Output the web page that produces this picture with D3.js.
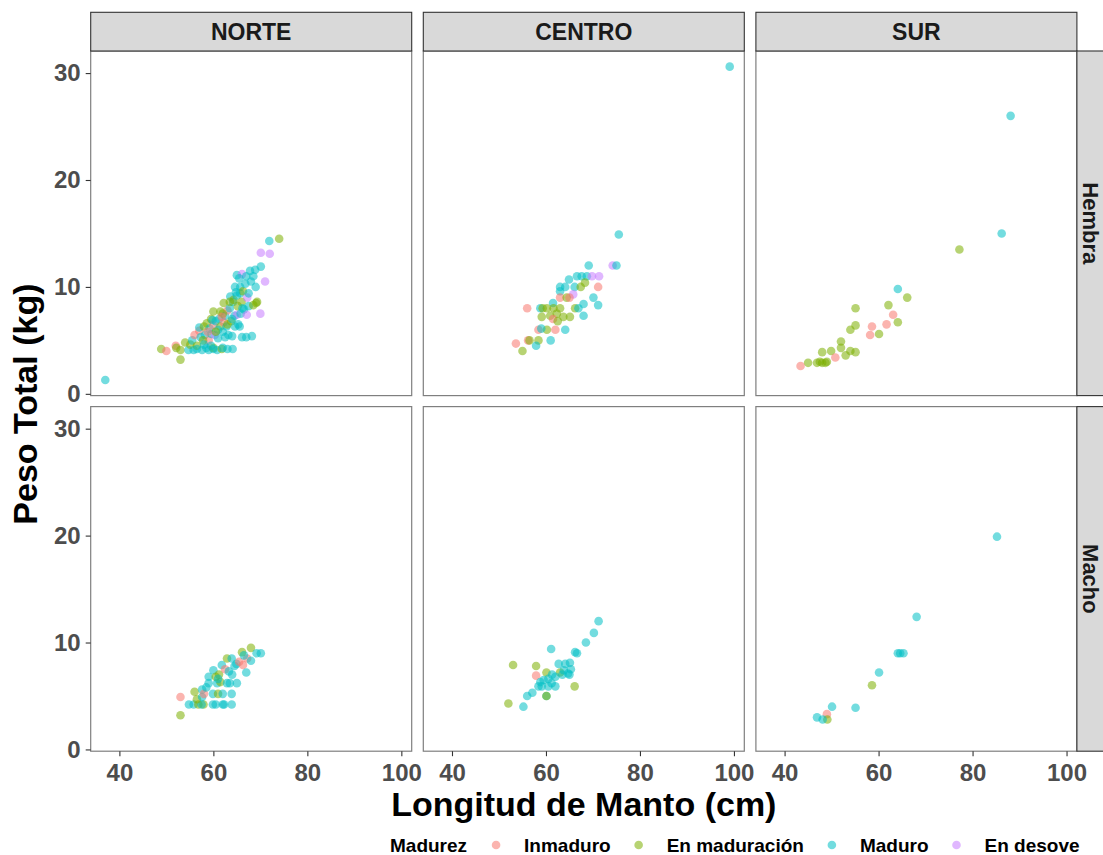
<!DOCTYPE html>
<html>
<head>
<meta charset="utf-8">
<script src="https://cdn.jsdelivr.net/npm/d3@7"></script>
<style>
  body { margin: 0; background: #ffffff; }
  text { font-family: "Liberation Sans", Arial, sans-serif; font-weight: bold; }
</style>
</head>
<body>
<svg id="chart" width="1103" height="855"></svg>
<script>
// Facets, categories and ticks
const zonas = ["NORTE", "CENTRO", "SUR"];
const sexos = ["Hembra", "Macho"];
const estadios = ["Inmaduro", "En maduración", "Maduro", "En desove"];
const colores = ["#F8766D", "#7CAE00", "#00BFC4", "#C77CFF"];
const ticksX = [40, 60, 80, 100];
const ticksY = [0, 10, 20, 30];

// Each record: [longitud de manto (cm), peso total (kg), índice de estadio de madurez]
const norteHembra = [
  [37.0,1.3,2],[48.9,4.2,1],[50.0,4.0,0],[52.0,4.5,0],[52.1,4.3,1],[53.0,4.1,1],[53.0,3.2,1],
  [54.0,4.8,1],[54.7,4.1,2],[55.1,4.6,1],[55.5,5.0,2],[55.8,4.1,2],[56.0,5.5,0],[56.5,4.5,1],
  [57.0,5.9,0],[57.0,6.2,2],[57.3,5.3,2],[57.6,4.1,2],[58.0,6.3,1],[58.2,5.5,2],[58.5,4.3,2],
  [58.6,6.6,1],[59.0,4.1,2],[59.0,5.0,0],[59.2,6.1,2],[59.5,7.0,1],[59.6,5.6,2],[60.0,4.3,1],
  [60.0,7.7,1],[60.0,6.4,0],[60.3,5.5,3],[60.5,6.8,2],[60.8,4.1,2],[61.0,5.2,2],[61.2,7.0,2],
  [61.5,7.7,1],[61.5,6.3,1],[61.8,4.2,1],[62.0,5.8,2],[62.2,8.5,1],[62.2,6.7,0],[62.5,7.3,2],
  [62.8,6.3,2],[63.0,4.2,2],[63.0,7.8,0],[63.2,5.5,2],[63.5,8.0,2],[63.6,9.1,2],[63.8,6.8,1],
  [64.0,5.4,2],[64.1,4.2,2],[64.2,8.6,2],[64.3,8.8,1],[64.5,7.3,2],[64.6,10.0,2],[64.6,6.3,2],
  [65.0,11.1,2],[65.0,9.2,2],[65.0,7.4,3],[65.2,8.2,1],[65.3,6.5,2],[65.6,6.3,2],[65.7,10.0,2],
  [65.7,9.4,2],[65.8,7.5,2],[66.1,11.2,3],[66.1,5.3,2],[66.0,8.6,1],[66.3,9.6,1],[66.5,7.9,2],
  [66.8,10.3,2],[67.0,11.0,2],[67.0,5.3,2],[67.1,7.4,3],[67.2,9.0,3],[67.5,8.2,2],[67.8,11.5,2],
  [68.0,10.5,2],[68.2,5.4,2],[68.5,11.0,2],[68.5,8.3,1],[68.9,11.6,2],[69.0,10.0,2],[69.1,8.5,1],
  [69.3,8.6,1],[70.0,7.5,3],[70.1,11.9,2],[70.1,13.2,3],[71.0,10.5,3],[71.9,14.3,2],[72.0,13.1,3],
  [74.0,14.5,1],[61.0,6.0,2],[62.0,7.5,1],[63.0,6.5,1],[64.0,7.0,2],[60.5,5.8,1],[62.5,5.3,2],
  [59.8,6.9,2],[63.5,8.6,1],[64.8,9.5,2],[65.5,10.8,2],[66.2,8.0,2],[67.5,9.4,2],[61.8,7.2,0],
  [58.8,5.8,0],[57.8,5.0,1],[56.5,4.2,2],[58.0,4.6,2],[62.0,4.3,2],[60.0,4.2,2],[59.5,4.5,2]
];
const centroHembra = [
  [99.1,30.6,2],[75.5,14.9,2],[74.2,12.0,3],[75.0,12.0,2],[69.1,12.0,2],[66.6,11.0,2],[67.6,11.0,2],
  [68.7,11.0,2],[69.8,11.0,3],[71.3,11.0,3],[64.9,10.7,2],[71.1,10.0,0],[63.0,10.0,2],[64.1,10.0,2],
  [66.1,10.0,2],[67.4,10.0,1],[68.3,10.4,1],[63.0,9.6,2],[65.8,9.3,3],[63.0,9.0,0],[64.4,9.0,1],
  [65.0,9.0,0],[70.1,9.0,2],[68.0,8.4,2],[71.1,8.3,2],[61.5,8.5,2],[56.0,8.0,0],[58.8,8.0,2],
  [59.3,8.0,1],[60.2,8.0,1],[61.6,8.0,1],[63.0,8.0,1],[66.2,8.0,1],[66.9,8.0,2],[68.0,7.3,2],
  [59.1,7.2,1],[60.9,7.3,1],[62.3,7.5,1],[63.7,7.2,1],[65.1,7.2,1],[61.5,7.0,0],[62.5,6.8,1],
  [58.4,6.0,0],[60.2,6.0,1],[62.0,6.0,0],[64.1,6.0,2],[59.0,6.1,2],[56.2,5.0,0],[56.5,5.0,1],
  [58.4,5.0,1],[61.0,5.0,2],[53.6,4.7,0],[57.9,4.5,2],[55.0,4.0,1]
];
const surHembra = [
  [88.1,26.0,2],[86.2,15.0,2],[77.2,13.5,1],[64.1,9.8,2],[66.1,9.0,1],[55.1,8.0,1],[62.1,8.3,1],
  [63.1,7.4,0],[64.1,6.7,1],[61.7,6.5,0],[58.6,6.3,0],[58.2,5.5,0],[60.1,5.6,1],[55.1,6.4,1],
  [54.0,6.0,1],[52.0,4.9,1],[52.0,4.3,1],[54.0,4.0,1],[55.1,3.9,1],[53.0,3.6,1],[49.9,4.0,1],
  [48.0,3.9,1],[50.8,3.4,0],[49.0,3.0,1],[48.0,2.9,1],[46.9,2.9,1],[48.7,2.9,1],[47.5,3.0,1],
  [45.0,2.9,1],[43.4,2.6,0]
];
const norteMacho = [
  [53.0,4.9,0],[53.0,3.2,1],[56.0,5.4,1],[54.8,4.2,2],[55.8,4.2,2],[56.8,4.2,1],[57.9,4.2,1],
  [57.5,4.2,2],[59.9,4.2,2],[60.5,4.2,2],[62.0,4.2,2],[62.3,4.2,2],[63.9,4.2,2],[56.5,4.7,1],
  [57.6,4.9,2],[57.6,5.6,2],[58.0,5.2,0],[59.9,5.2,2],[61.0,5.2,1],[62.0,5.2,2],[63.9,5.2,2],
  [59.0,6.2,2],[60.8,6.2,2],[61.5,6.3,1],[62.9,6.2,2],[63.5,6.2,2],[65.0,6.2,2],[59.0,6.8,2],
  [60.0,7.4,2],[60.5,6.8,1],[61.2,7.0,1],[61.8,7.9,2],[62.5,7.5,0],[63.3,7.3,2],[64.0,7.0,2],
  [64.9,8.0,2],[62.9,8.5,1],[63.9,8.5,2],[64.5,7.8,2],[65.5,8.2,0],[66.3,7.9,0],[67.2,8.5,0],
  [67.0,7.2,2],[66.1,9.1,1],[68.0,9.5,1],[68.0,8.3,2],[69.2,9.0,2],[70.1,9.0,2],[66.5,8.8,2],
  [58.5,5.8,2],[61.0,6.6,2]
];
const centroMacho = [
  [71.2,12.0,2],[70.2,10.9,2],[68.5,10.0,2],[66.2,9.1,2],[66.6,9.0,2],[61.1,9.4,2],[65.1,8.1,2],
  [64.1,8.0,2],[62.7,8.0,2],[65.3,7.5,2],[53.0,7.9,1],[57.9,7.8,1],[57.9,6.9,0],[60.1,7.2,1],
  [63.0,7.2,1],[64.7,7.1,2],[65.0,7.0,2],[61.3,7.0,2],[60.5,6.6,2],[59.5,6.5,2],[62.0,6.8,2],
  [63.5,7.0,2],[58.4,5.9,2],[59.1,5.9,2],[60.5,5.9,2],[62.0,5.9,2],[61.2,6.2,2],[66.1,5.9,1],
  [60.1,5.0,2],[60.1,5.0,1],[57.1,5.3,2],[56.0,5.0,2],[55.2,4.0,2],[52.0,4.3,1],[58.8,6.3,2],
  [63.8,7.4,2]
];
const surMacho = [
  [85.2,19.9,2],[68.1,12.4,2],[64.1,9.0,2],[64.6,9.0,2],[65.3,9.0,2],[60.1,7.2,2],[58.6,6.0,1],
  [55.1,3.9,2],[50.1,4.0,2],[49.0,3.3,0],[49.1,2.8,1],[46.9,3.0,2],[48.1,2.8,2]
];

// Facet grid: rows = sexo, columns = zona
const paneles = [
  [norteHembra, centroHembra, surHembra],
  [norteMacho, centroMacho, surMacho]
];

// Layout
const left0 = 90.7, top0 = 51;
const panelW = 321, panelH = 344.6, gapX = 11.6, gapY = 11, stripH = 38.7;

const todos = paneles.flat(2);
const expand = (ext) => { const r = ext[1] - ext[0]; return [ext[0] - 0.05 * r, ext[1] + 0.05 * r]; };
const x = d3.scaleLinear().domain(expand(d3.extent(todos, d => d[0]))).range([0, panelW]);
const y = d3.scaleLinear().domain(expand(d3.extent(todos, d => d[1]))).range([panelH, 0]);
const color = d3.scaleOrdinal().domain(d3.range(estadios.length)).range(colores);

const svg = d3.select("#chart");

sexos.forEach((sexo, i) => {
  zonas.forEach((zona, j) => {
    const gx = left0 + j * (panelW + gapX);
    const gy = top0 + i * (panelH + gapY);
    const g = svg.append("g").attr("transform", `translate(${gx},${gy})`);

    g.append("rect").attr("width", panelW).attr("height", panelH).attr("fill", "#ffffff");

    g.selectAll("circle").data(paneles[i][j]).join("circle")
      .attr("cx", d => x(d[0]))
      .attr("cy", d => y(d[1]))
      .attr("r", 4.3)
      .attr("fill", d => color(d[2]))
      .attr("fill-opacity", 0.55);

    g.append("rect").attr("width", panelW).attr("height", panelH)
      .attr("fill", "none").attr("stroke", "#7f7f7f").attr("stroke-width", 1.2);

    // Column strip
    if (i === 0) {
      const s = svg.append("g").attr("transform", `translate(${gx},${top0 - stripH})`);
      s.append("rect").attr("width", panelW).attr("height", stripH)
        .attr("fill", "#d9d9d9").attr("stroke", "#333333").attr("stroke-width", 1.1);
      s.append("text").attr("x", panelW / 2).attr("y", 27.7)
        .attr("text-anchor", "middle").attr("font-size", 23).attr("fill", "#1a1a1a").text(zona);
    }

    // Row strip (runs off the right edge of the canvas)
    if (j === zonas.length - 1) {
      const sx = gx + panelW;
      const s = svg.append("g").attr("transform", `translate(${sx},${gy})`);
      s.append("rect").attr("width", stripH).attr("height", panelH)
        .attr("fill", "#d9d9d9").attr("stroke", "#333333").attr("stroke-width", 1.1);
      s.append("text")
        .attr("transform", `translate(13.5,${panelH / 2}) rotate(90)`)
        .attr("text-anchor", "middle").attr("dy", "0.35em")
        .attr("font-size", 22).attr("fill", "#1a1a1a").text(sexo);
    }

    // Axes
    if (j === 0) {
      const ay = g.append("g").call(d3.axisLeft(y).tickValues(ticksY).tickSize(5).tickPadding(5));
      ay.select(".domain").remove();
      ay.selectAll("line").attr("stroke", "#333333").attr("stroke-width", 1.1);
      ay.selectAll("text").attr("font-size", 24).attr("fill", "#4d4d4d")
        .style("font-family", "'Liberation Sans', Arial, sans-serif").style("font-weight", "bold");
    }
    if (i === sexos.length - 1) {
      const ax = g.append("g").attr("transform", `translate(0,${panelH})`)
        .call(d3.axisBottom(x).tickValues(ticksX).tickSize(5).tickPadding(8));
      ax.select(".domain").remove();
      ax.selectAll("line").attr("stroke", "#333333").attr("stroke-width", 1.1);
      ax.selectAll("text").attr("font-size", 24).attr("fill", "#4d4d4d")
        .style("font-family", "'Liberation Sans', Arial, sans-serif").style("font-weight", "bold");
    }
  });
});

// Axis titles
const gridRight = left0 + 3 * panelW + 2 * gapX;
const gridBottom = top0 + 2 * panelH + gapY;
svg.append("text")
  .attr("x", (left0 + gridRight) / 2).attr("y", 816)
  .attr("text-anchor", "middle").attr("font-size", 34).attr("fill", "#000000")
  .text("Longitud de Manto (cm)");
svg.append("text")
  .attr("transform", `translate(37,${(top0 + gridBottom) / 2 + 3}) rotate(-90)`)
  .attr("text-anchor", "middle").attr("font-size", 34).attr("fill", "#000000")
  .text("Peso Total (kg)");

// Legend
const legY = 845;
const leg = svg.append("g");
let cursor = 390;
const titulo = leg.append("text").attr("x", cursor).attr("y", legY).attr("dy", "0.35em")
  .attr("font-size", 19).attr("fill", "#000000").text("Madurez");
cursor += titulo.node().getComputedTextLength() + 29;
estadios.forEach((e, k) => {
  leg.append("circle").attr("cx", cursor).attr("cy", legY).attr("r", 4.3)
    .attr("fill", colores[k]).attr("fill-opacity", 0.55);
  const t = leg.append("text").attr("x", cursor + 28).attr("y", legY).attr("dy", "0.35em")
    .attr("font-size", 19).attr("fill", "#000000").text(e);
  cursor += 28 + t.node().getComputedTextLength() + 28;
});
</script>
</body>
</html>
